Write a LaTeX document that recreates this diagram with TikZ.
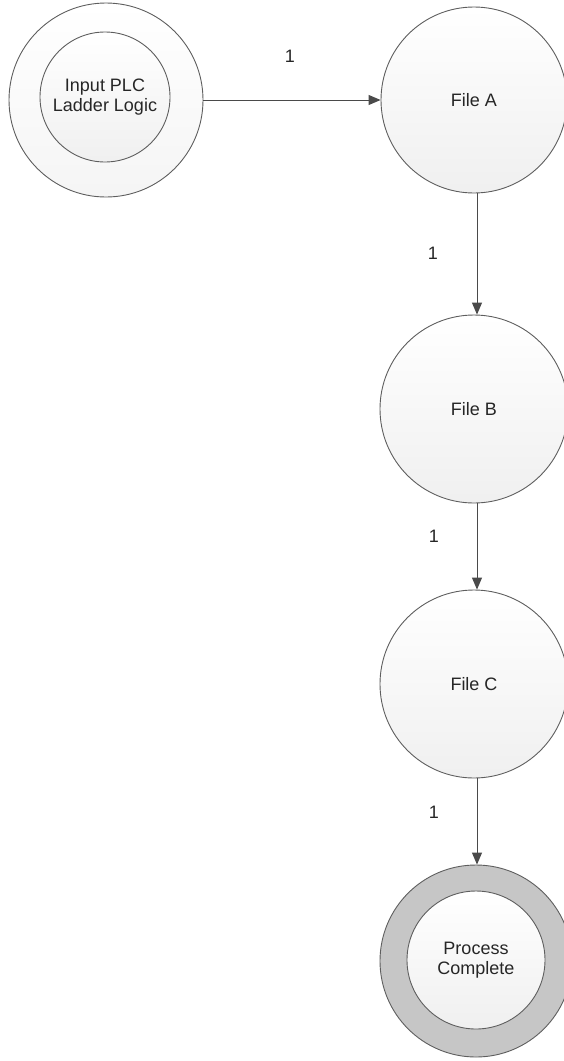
\documentclass[tikz,border=0pt]{standalone}
\usepackage{fontspec}
\setmainfont{Liberation Sans}
\usetikzlibrary{arrows.meta}
\definecolor{edgegray}{HTML}{4A4A4A}
\definecolor{ringgray}{HTML}{C6C6C6}
\definecolor{rimgray}{HTML}{5E5E5E}
\tikzset{
  state/.style={circle, draw=rimgray, line width=0.9pt, inner sep=0pt,
    top color=white, bottom color=black!6, align=center,
    font=\fontsize{18}{20}\selectfont, text=black!85},
  ring/.style={circle, draw=rimgray, line width=0.9pt, inner sep=0pt},
  flow/.style={draw=edgegray, line width=1pt,
    -{Triangle[length=12pt,width=10pt]}},
  count/.style={font=\fontsize{18}{20}\selectfont, text=black!85}
}
\begin{document}
\begin{tikzpicture}[x=1pt,y=-1pt]
  \useasboundingbox (0,0) rectangle (564,1061);
  % start state: double ring
  \node[ring, minimum size=194pt, top color=white, bottom color=black!4] (in) at (106,100) {};
  \node[state, minimum size=130pt] (inC) at (105,97) {Input PLC\\Ladder Logic};
  % intermediate states
  \node[state, minimum size=186pt] (A) at (474,100) {File A};
  \node[state, minimum size=188pt] (B) at (474,409) {File B};
  \node[state, minimum size=188pt] (C) at (474,684) {File C};
  % final state: grey ring
  \node[ring, minimum size=192pt, fill=ringgray] (out) at (476,961) {};
  \node[state, minimum size=138pt] (outC) at (476,960) {Process\\Complete};
  % transitions
  \draw[flow] (in.east) -- (A.west);
  \draw[flow] ([xshift=3pt]A.south) -- ([xshift=3pt]B.north);
  \draw[flow] ([xshift=3pt]B.south) -- ([xshift=3pt]C.north);
  \draw[flow] ([xshift=3pt]C.south) -- ([xshift=1pt]out.north);
  % transition counts
  \node[count] (l1) at (290,56) {1};
  \node[count] (l2) at (433,253) {1};
  \node[count] (l3) at (434,536) {1};
  \node[count] (l4) at (434,812) {1};
\end{tikzpicture}
\end{document}
